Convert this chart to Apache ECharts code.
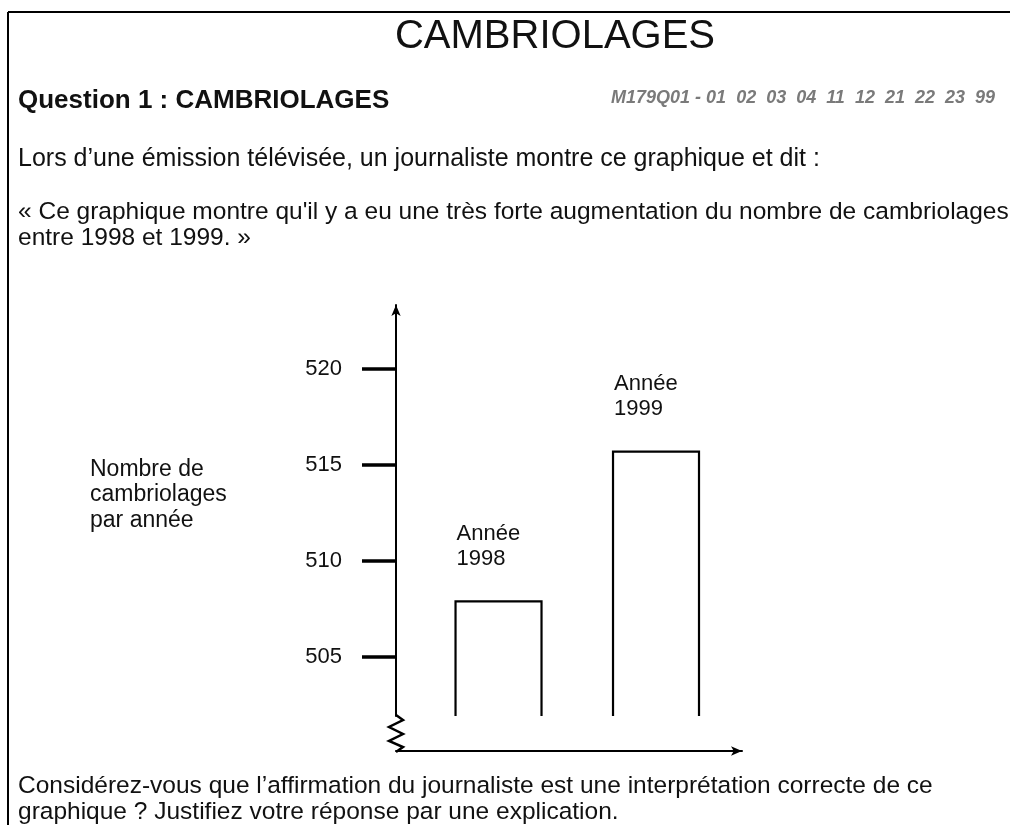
<!DOCTYPE html>
<html>
<head>
<meta charset="utf-8">
<script src="https://cdn.jsdelivr.net/npm/echarts@6/dist/echarts.min.js"></script>
<style>
  html, body { margin: 0; padding: 0; background: #fff; }
  #chart { width: 1010px; height: 825px; }
</style>
</head>
<body>
<div id="chart"></div>
<script>
// données
var years = ['1998', '1999'];
var burglaries = [507.9, 515.7];
var yTicks = [505, 510, 515, 520];
var axisMin = 501.92;   // bas des barres (axe coupé)
var axisMax = 523.35;

var FONT = '"Liberation Sans", Arial, sans-serif';
var BAR_WIDTH = 0.546;  // en unités de l'axe x

var chart = echarts.init(document.getElementById('chart'));

function txt(x, y, text, size, extra) {
    var style = {
        text: text,
        font: size + 'px ' + FONT,
        fill: '#111',
        textVerticalAlign: 'middle'
    };
    for (var k in extra) style[k] = extra[k];
    return { type: 'text', x: x, y: y, style: style, silent: true };
}

var option = {
    backgroundColor: '#fff',
    animation: false,
    grid: { left: 396, top: 305, width: 346, height: 411 },
    xAxis: {
        type: 'value',
        min: -0.651,
        max: 1.546,
        offset: 35,
        axisLine: {
            show: true,
            onZero: false,
            symbol: ['none', 'arrow'],
            symbolSize: [7, 11],
            lineStyle: { color: '#000', width: 2 }
        },
        axisTick: { show: false },
        axisLabel: { show: false },
        splitLine: { show: false }
    },
    yAxis: {
        type: 'value',
        min: axisMin,
        max: axisMax,
        axisLine: {
            show: true,
            onZero: false,
            symbol: ['none', 'arrow'],
            symbolSize: [7, 11],
            lineStyle: { color: '#000', width: 2 }
        },
        axisTick: {
            show: true,
            customValues: yTicks,
            length: 34,
            lineStyle: { color: '#000', width: 3.5 }
        },
        axisLabel: {
            show: true,
            customValues: yTicks,
            margin: 54,
            fontFamily: FONT,
            fontSize: 22,
            color: '#111'
        },
        splitLine: { show: false }
    },
    series: [{
        type: 'custom',
        data: burglaries.map(function (v, i) { return [i, v]; }),
        renderItem: function (params, api) {
            var top = api.coord([api.value(0), api.value(1)]);
            var base = api.coord([api.value(0), axisMin]);
            var half = api.size([BAR_WIDTH, 0])[0] / 2;
            var x0 = top[0] - half, x1 = top[0] + half;
            return {
                type: 'group',
                children: [{
                    type: 'polyline',
                    shape: { points: [[x0, base[1]], [x0, top[1]], [x1, top[1]], [x1, base[1]]] },
                    style: { stroke: '#000', lineWidth: 2.2, fill: null }
                }, {
                    type: 'text',
                    x: x0 + 1,
                    y: top[1] - 30,
                    style: {
                        text: 'Année\n' + years[params.dataIndex],
                        font: '22px ' + FONT,
                        lineHeight: 25,
                        fill: '#111',
                        textVerticalAlign: 'bottom'
                    }
                }]
            };
        }
    }],
    graphic: [
        // cadre de la page
        { type: 'line', shape: { x1: 8, y1: 12, x2: 1010, y2: 12 }, style: { stroke: '#000', lineWidth: 2 } },
        { type: 'line', shape: { x1: 8, y1: 12, x2: 8, y2: 825 }, style: { stroke: '#000', lineWidth: 2 } },
        // coupure de l'axe
        {
            type: 'polyline',
            shape: { points: [[396, 715], [403, 720], [389, 727], [403, 734], [389, 741], [403, 747], [396, 752]] },
            style: { stroke: '#000', lineWidth: 2.5, fill: null }
        },
        txt(555, 37, 'CAMBRIOLAGES', 40, { textAlign: 'center' }),
        txt(18, 101, 'Question 1 : CAMBRIOLAGES', 26, { font: 'bold 26px ' + FONT }),
        txt(995, 98, 'M179Q01 - 01  02  03  04  11  12  21  22  23  99', 18,
            { font: 'italic bold 18px ' + FONT, fill: '#7a7a7a', textAlign: 'right' }),
        txt(18, 159, 'Lors d’une émission télévisée, un journaliste montre ce graphique et dit :', 25),
        txt(18, 212, '« Ce graphique montre qu\'il y a eu une très forte augmentation du nombre de cambriolages', 24.5),
        txt(18, 238, 'entre 1998 et 1999. »', 24.5),
        txt(90, 470, 'Nombre de', 23),
        txt(90, 495, 'cambriolages', 23),
        txt(90, 521, 'par année', 23),
        txt(18, 786, 'Considérez-vous que l’affirmation du journaliste est une interprétation correcte de ce', 24.5),
        txt(18, 812, 'graphique ? Justifiez votre réponse par une explication.', 24.5)
    ]
};

chart.setOption(option);
</script>
</body>
</html>
